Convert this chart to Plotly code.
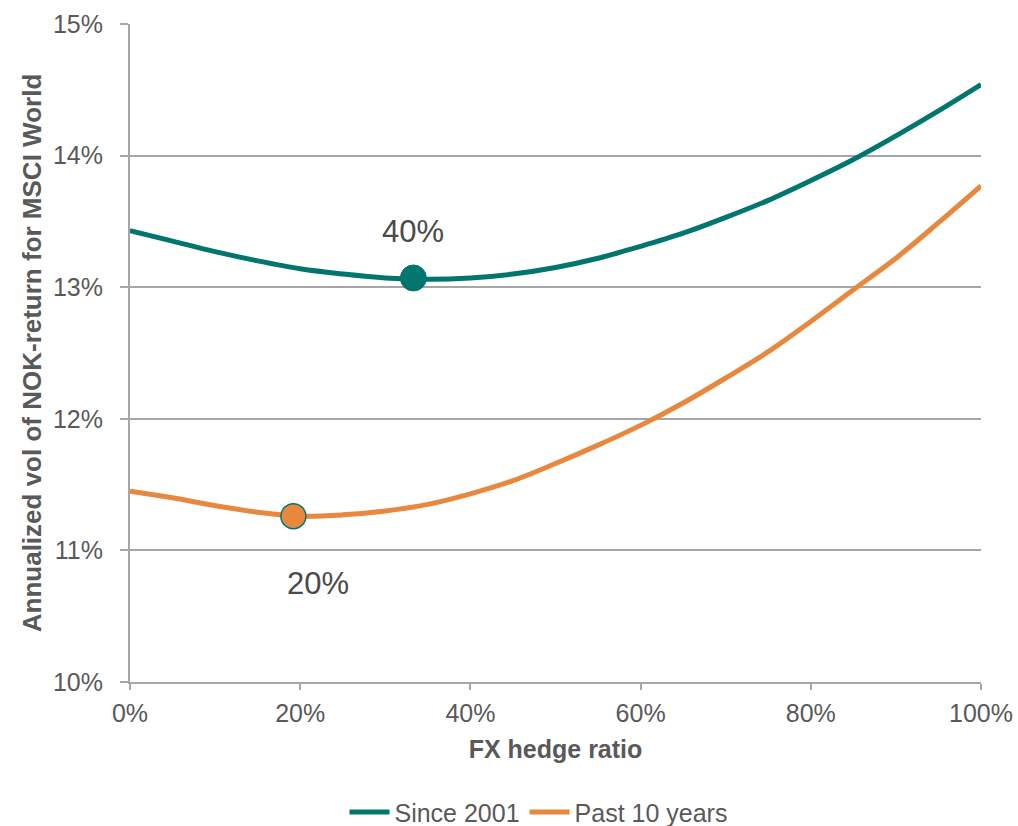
import plotly.graph_objects as go

# FX hedge ratio (%) and annualized volatility (%) of NOK returns for MSCI World
hedge_ratio = [0, 5, 10, 15, 20, 25, 30, 35, 40, 45, 50,
               55, 60, 65, 70, 75, 80, 85, 90, 95, 100]
vol_since_2001 = [13.43, 13.35, 13.27, 13.20, 13.14, 13.10, 13.07, 13.06, 13.07, 13.10, 13.15,
                  13.22, 13.31, 13.41, 13.53, 13.66, 13.81, 13.97, 14.15, 14.34, 14.54]
vol_past_10y = [11.45, 11.40, 11.34, 11.29, 11.26, 11.27, 11.30, 11.35, 11.43, 11.53, 11.66,
                11.80, 11.95, 12.12, 12.31, 12.51, 12.74, 12.98, 13.22, 13.49, 13.77]

# Minimum-volatility points and their labels
min_x = [33.3, 19.2]
min_y = [13.07, 11.26]
min_labels = ["40%", "20%"]

x_ticks = [0, 20, 40, 60, 80, 100]
x_tick_text = ["0%", "20%", "40%", "60%", "80%", "100%"]
y_ticks = [10, 11, 12, 13, 14, 15]
y_tick_text = ["10%", "11%", "12%", "13%", "14%", "15%"]

TEAL = "#00766f"
ORANGE = "#e8883e"
GRID = "#a6a6a6"
TEXT = "#595959"
FONT = "Liberation Sans, Arial, sans-serif"

fig = go.Figure()
fig.add_trace(go.Scatter(x=hedge_ratio, y=vol_since_2001, mode="lines", name="Since 2001",
                         line=dict(color=TEAL, width=5, shape="spline")))
fig.add_trace(go.Scatter(x=hedge_ratio, y=vol_past_10y, mode="lines", name="Past 10 years",
                         line=dict(color=ORANGE, width=5, shape="spline")))

# Minimum markers
fig.add_trace(go.Scatter(x=[min_x[0]], y=[min_y[0]], mode="markers", showlegend=False,
                         marker=dict(color=TEAL, size=26, line=dict(color=TEAL, width=1))))
fig.add_trace(go.Scatter(x=[min_x[1]], y=[min_y[1]], mode="markers", showlegend=False,
                         marker=dict(color=ORANGE, size=25, line=dict(color=TEAL, width=1.5))))

fig.add_annotation(x=min_x[0], y=min_y[0], text=min_labels[0], showarrow=False,
                   yshift=46, font=dict(family=FONT, size=31, color="#4a4a4a"))
fig.add_annotation(x=min_x[1], y=min_y[1], text=min_labels[1], showarrow=False,
                   xshift=25, yshift=-67, font=dict(family=FONT, size=31, color="#4a4a4a"))

fig.update_layout(
    width=1018, height=826,
    margin=dict(l=130, r=37, t=24, b=144, autoexpand=False),
    plot_bgcolor="white", paper_bgcolor="white",
    font=dict(family=FONT, color=TEXT),
    legend=dict(orientation="h", x=0.48, xanchor="center", y=-0.198, yanchor="middle",
                font=dict(family=FONT, size=25, color=TEXT), itemwidth=40,
                tracegroupgap=0),
    showlegend=True,
)
fig.update_xaxes(
    range=[0, 100], tickvals=x_ticks, ticktext=x_tick_text,
    showgrid=False, zeroline=False,
    showline=True, linecolor=GRID, linewidth=2,
    ticks="outside", ticklen=6, tickwidth=2, tickcolor=GRID,
    tickfont=dict(family=FONT, size=25, color=TEXT), ticklabelstandoff=2,
    title=dict(text="<b>FX hedge ratio</b>", font=dict(family=FONT, size=25, color=TEXT),
               standoff=14),
)
fig.update_yaxes(
    range=[10, 15], tickvals=y_ticks, ticktext=y_tick_text,
    showgrid=True, gridcolor=GRID, gridwidth=1.5, zeroline=False,
    showline=True, linecolor=GRID, linewidth=2,
    ticks="outside", ticklen=8, tickwidth=2, tickcolor=GRID,
    tickfont=dict(family=FONT, size=25, color=TEXT), ticklabelstandoff=12,
    title=dict(text="<b>Annualized vol of NOK-return for MSCI World</b>",
               font=dict(family=FONT, size=26, color=TEXT), standoff=4),
)

fig.write_html("out.html")
